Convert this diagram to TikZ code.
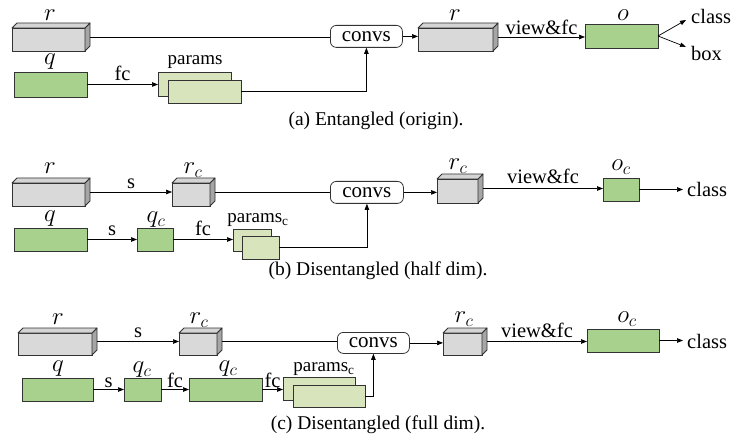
\documentclass[tikz,border=0pt]{standalone}
\usepackage{fontspec}
\setmainfont{Liberation Serif}
\usetikzlibrary{arrows.meta,calc}
\definecolor{gfront}{HTML}{D9D9D9}
\definecolor{gside}{HTML}{A6A6A6}
\definecolor{gtop}{HTML}{D4D4D4}
\definecolor{qgreen}{HTML}{A9D18E}
\definecolor{pgreen}{HTML}{D8E4BC}
\definecolor{edgec}{HTML}{333333}
\tikzset{
  base/.style={draw=edgec,line width=0.8pt,inner sep=0pt,outer sep=0pt},
  front/.style={base,fill=gfront},
  sideface/.style={draw=edgec,line width=0.8pt,fill=gside,line join=round},
  topface/.style={draw=edgec,line width=0.8pt,fill=gtop,line join=round},
  qbox/.style={base,fill=qgreen},
  pbox/.style={base,fill=pgreen},
  conv/.style={draw=edgec,line width=0.8pt,rounded corners=6pt,inner sep=0pt,font=\fontsize{21}{23}\selectfont},
  ln/.style={draw=black,line width=0.7pt},
  arr/.style={ln,-{Triangle[length=6pt,width=4.5pt]}},
  lbl/.style={inner sep=0pt,font=\fontsize{20.5}{22}\selectfont},
  mlbl/.style={inner sep=0pt,font=\fontsize{24}{26}\selectfont},
  plbl/.style={inner sep=0pt,font=\fontsize{19}{21}\selectfont},
  captxt/.style={inner sep=0pt,font=\fontsize{19.5}{21}\selectfont},
}
\newcommand\bx[6]{\node[#1,anchor=north west,minimum width={#4-#2},minimum height={#5-#3}] (#6) at (#2,#3) {};}
\newcommand\cube[5]{\bx{front}{#1}{#2}{#3}{#4}{#5}
  \draw[sideface] (#5.north east) -- ++(5,-5) -- ($(#5.south east)+(5,-5)$) -- (#5.south east) -- cycle;
  \draw[topface] (#5.north west) -- ++(5,-5) -- ($(#5.north east)+(5,-5)$) -- (#5.north east) -- cycle;
  \coordinate (#5s) at ($(#5.east)+(5,-2.5)$);}
\begin{document}
\begin{tikzpicture}[x=1pt,y=-1pt]
\useasboundingbox (0,0) rectangle (734,441);
% ---------------- (a)
\cube{12}{28}{85}{51}{ra}
\node[mlbl] (lra) at (50,15) {$r$};
\bx{qbox}{14}{72}{87}{97}{qa}
\node[mlbl] (lqa) at (50,62) {$q$};
\bx{pbox}{158}{72}{231}{96}{pba}
\bx{pbox}{168}{80}{241}{103}{pfa}
\node[plbl] (lpa) at (195,62) {params};
\node[conv,anchor=north west,minimum width=72,minimum height=22] (ca) at (330,25) {convs};
\cube{418}{28}{493}{51}{rb2}
\node[mlbl] (lrb2) at (455,15) {$r$};
\bx{qbox}{585}{24}{658}{48}{oa}
\node[mlbl] (loa) at (623,15) {$o$};
\coordinate (clsA) at (686,20);
\coordinate (boxA) at (686,47);
\node[lbl,anchor=west] (tclsA) at (691,16) {class};
\node[lbl,anchor=west] (tboxA) at (691,53) {box};
\draw[arr] (qa.east) -- (qa.east -| pba.west) node[lbl,midway,above=3pt] (fca) {fc};
\draw[ln] (ras) -- (ras -| ca.west);
\draw[arr] (pfa.east) -| (ca.south);
\draw[arr] (ca.east) -- (ca.east -| rb2.west);
\draw[arr] (rb2s) -- (rb2s -| oa.west) node[lbl,midway,above=2pt] (vfa) {view\&fc};
\draw[arr] (oa.east) -- (clsA);
\draw[arr] (oa.east) -- (boxA);
\node[captxt] (capa) at (376,121) {(a) Entangled (origin).};
% ---------------- (b)
\cube{12}{183}{85}{206}{rb}
\node[mlbl] (lrb) at (50,168) {$r$};
\cube{172}{183}{210}{206}{rcb}
\node[mlbl] (lrcb) at (193,170) {$r_c$};
\node[conv,anchor=north west,minimum width=73,minimum height=22] (cb) at (330,181) {convs};
\cube{437}{179}{478}{203}{rcb2}
\node[mlbl] (lrcb2) at (458,166) {$r_c$};
\bx{qbox}{603}{178}{639}{201}{ob}
\node[mlbl] (lob) at (621,167) {$o_c$};
\coordinate (clsB) at (683,189.5);
\node[lbl,anchor=west] (tclsB) at (687,189) {class};
\bx{qbox}{14}{228}{87}{251}{qb}
\node[mlbl] (lqb) at (50,219) {$q$};
\bx{qbox}{137}{228}{173}{251}{qcb}
\node[mlbl] (lqcb) at (156,220) {$q_c$};
\bx{pbox}{233}{229}{271}{251}{pbb}
\bx{pbox}{242}{236}{279}{259}{pfb}
\node[plbl] (lpb) at (258,220) {params\textsubscript{c}};
\draw[arr] (rbs) -- (rbs -| rcb.west) node[lbl,midway,above=3pt] (sb1) {s};
\draw[ln] (rcbs) -- (rcbs -| cb.west);
\draw[arr] (cb.east) -- (cb.east -| rcb2.west);
\draw[arr] (rcb2s) -- (rcb2s -| ob.west) node[lbl,midway,above=4pt] (vfb) {view\&fc};
\draw[arr] (ob.east) -- (clsB);
\draw[arr] (qb.east) -- (qcb.west) node[lbl,midway,above=3pt] (sb2) {s};
\draw[arr] (qcb.east) -- (qcb.east -| pbb.west) node[lbl,midway,above=3pt] (fcb) {fc};
\draw[arr] (pfb.east) -| (cb.south);
\node[captxt] (capb) at (378,271) {(b) Disentangled (half dim).};
% ---------------- (c)
\cube{18}{333}{92}{355}{rc}
\node[mlbl] (lrc) at (58,319) {$r$};
\cube{179}{333}{217}{355}{rcc}
\node[mlbl] (lrcc) at (199,320) {$r_c$};
\node[conv,anchor=north west,minimum width=72,minimum height=21] (cc) at (337,332) {convs};
\cube{443}{333}{482}{355}{rcc2}
\node[mlbl] (lrcc2) at (464,319) {$r_c$};
\bx{qbox}{587}{329}{659}{352}{oc}
\node[mlbl] (loc) at (627,319) {$o_c$};
\coordinate (clsC) at (683,340.5);
\node[lbl,anchor=west] (tclsC) at (687,341) {class};
\bx{qbox}{22}{378}{93}{401}{qc}
\node[mlbl] (lqc) at (58,369) {$q$};
\bx{qbox}{124}{378}{161}{401}{qcc}
\node[mlbl] (lqcc) at (142,370) {$q_c$};
\bx{qbox}{189}{378}{262}{401}{qwc}
\node[mlbl] (lqwc) at (228,369) {$q_c$};
\bx{pbox}{283}{377}{355}{400}{pbc}
\bx{pbox}{293}{385}{365}{407}{pfc}
\node[plbl] (lpc) at (324,369) {params\textsubscript{c}};
\draw[arr] (rcs) -- (rcs -| rcc.west) node[lbl,midway,above=3pt] (sc1) {s};
\draw[ln] (rccs) -- (rccs -| cc.west);
\draw[arr] (cc.east) -- (cc.east -| rcc2.west);
\draw[arr] (rcc2s) -- (rcc2s -| oc.west) node[lbl,midway,above=3pt] (vfc) {view\&fc};
\draw[arr] (oc.east) -- (clsC);
\draw[arr] (qc.east) -- (qcc.west) node[lbl,midway,above=1pt] (sc2) {s};
\draw[arr] (qcc.east) -- (qwc.west) node[lbl,midway,above=1pt] (fcc1) {fc};
\draw[arr] (qwc.east) -- (qwc.east -| pbc.west) node[lbl,midway,above=1pt] (fcc2) {fc};
\draw[arr] (pfc.east) -| (cc.south);
\node[captxt] (capc) at (378,425) {(c) Disentangled (full dim).};
\end{tikzpicture}
\end{document}
